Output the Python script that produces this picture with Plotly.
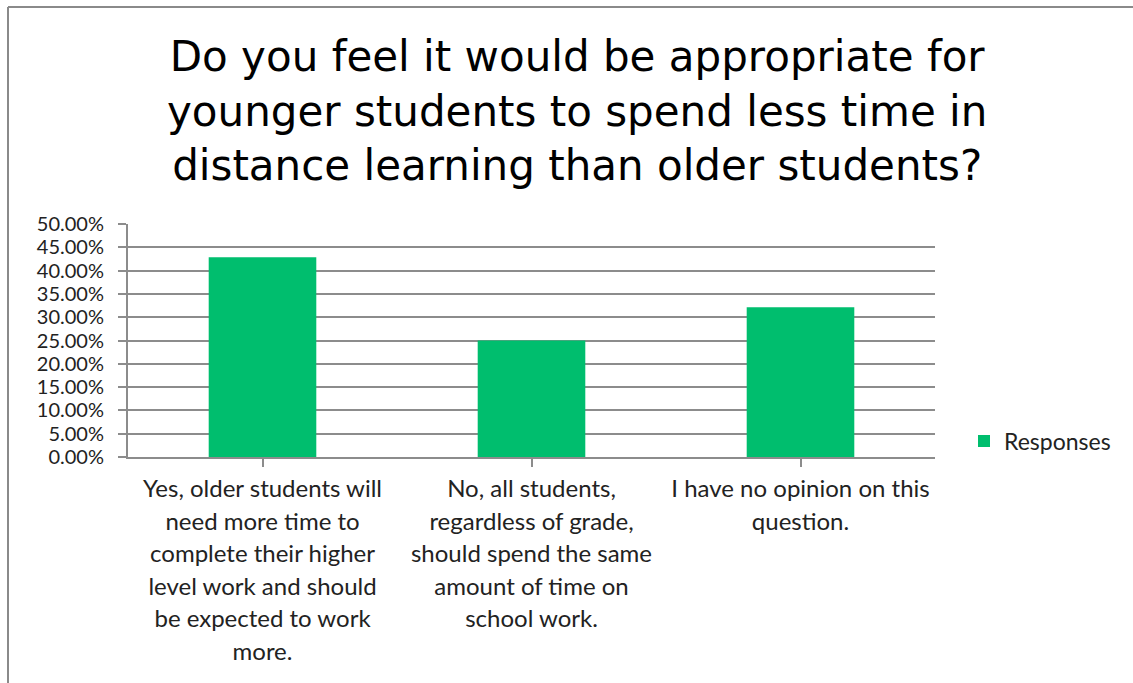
import plotly.graph_objects as go

# Survey data
categories = [
    "Yes, older students will<br>need more time to<br>complete their higher<br>level work and should<br>be expected to work<br>more.",
    "No, all students,<br>regardless of grade,<br>should spend the same<br>amount of time on<br>school work.",
    "I have no opinion on this<br>question.",
]
responses = [0.4286, 0.25, 0.3214]
y_ticks = [0.0, 0.05, 0.10, 0.15, 0.20, 0.25, 0.30, 0.35, 0.40, 0.45, 0.50]
y_tick_labels = [f"{v * 100:.2f}%" for v in y_ticks]
series_name = "Responses"
title_text = ("Do you feel it would be appropriate for<br>"
              "younger students to spend less time in<br>"
              "distance learning than older students?")

W, H = 1133, 683
ML, MR, MT, MB = 128, 198, 224, 226
PW, PH = W - ML - MR, H - MT - MB

BODY_FONT = "Lato, 'Open Sans', sans-serif"
GREEN = "#00BE6E"
GRID = "#8C8C8C"
TEXT = "#222222"


def px_x(x):
    return (x - ML) / PW


def px_y(y):
    return (H - MB - y) / PH


def shrink_lines(text, size):
    # keep the wide line spacing of the outer font while drawing smaller glyphs
    return "<br>".join(f'<span style="font-size:{size}px">{ln}</span>' for ln in text.split("<br>"))


fig = go.Figure()
fig.add_trace(go.Bar(
    x=list(range(len(categories))),
    y=responses,
    name=series_name,
    marker=dict(color=GREEN, line=dict(width=0)),
    width=0.4,
    showlegend=True,
))

fig.update_layout(
    width=W, height=H,
    margin=dict(l=ML, r=MR, t=MT, b=MB),
    paper_bgcolor="white",
    plot_bgcolor="white",
    showlegend=True,
    legend=dict(
        x=px_x(964), xanchor="left",
        y=px_y(441), yanchor="middle",
        font=dict(family=BODY_FONT, size=23, color=TEXT),
        bgcolor="rgba(0,0,0,0)",
        itemwidth=30,
    ),
    bargap=0.6,
)

# Chart title
fig.add_annotation(
    text=title_text,
    xref="paper", yref="paper",
    x=px_x(577), xanchor="center",
    y=px_y(30), yanchor="top",
    showarrow=False, align="center",
    font=dict(family="DejaVu Sans, Arial, sans-serif", size=42, color="#000000"),
)

fig.update_xaxes(
    tickmode="array",
    tickvals=list(range(len(categories))),
    ticktext=[shrink_lines(c, 24) for c in categories],
    tickfont=dict(family=BODY_FONT, size=25, color=TEXT),
    range=[-0.5, len(categories) - 0.5],
    showline=True, linecolor=GRID, linewidth=2,
    ticks="outside", tickson="boundaries", ticklen=8, tickcolor=GRID, tickwidth=2,
    showgrid=False,
    zeroline=False,
    fixedrange=True,
)

fig.update_yaxes(
    range=[0, 0.5],
    tickmode="array",
    tickvals=y_ticks,
    ticktext=y_tick_labels,
    tickfont=dict(family=BODY_FONT, size=20, color=TEXT),
    showline=True, linecolor=GRID, linewidth=2,
    ticks="outside", ticklen=8, tickcolor=GRID, tickwidth=2,
    showgrid=True, gridcolor=GRID, gridwidth=2,
    zeroline=False,
    ticklabelstandoff=10,
)

# Outer frame (top and left edges)
fig.add_shape(type="line", xref="paper", yref="paper",
              x0=px_x(8), x1=px_x(W + 5), y0=px_y(7), y1=px_y(7),
              line=dict(color="#8A8A8A", width=2))
fig.add_shape(type="line", xref="paper", yref="paper",
              x0=px_x(8), x1=px_x(8), y0=px_y(7), y1=px_y(H + 5),
              line=dict(color="#8A8A8A", width=2))

fig.write_html("out.html")
